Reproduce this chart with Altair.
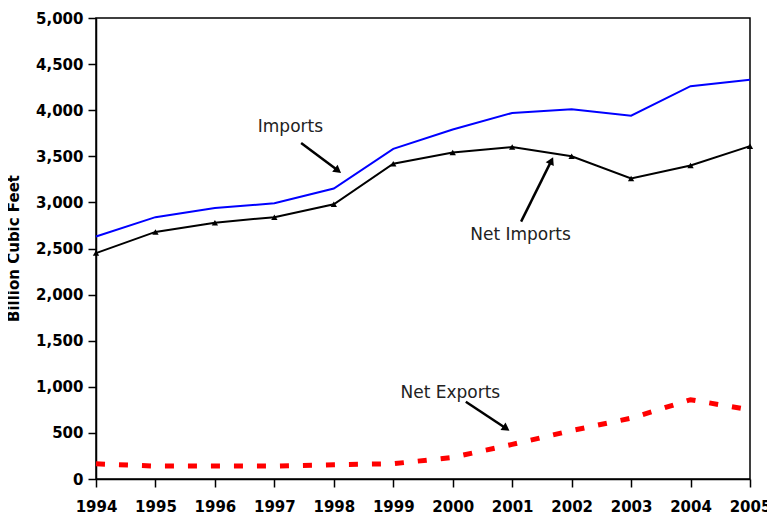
import altair as alt
import pandas as pd

# ---- data ----
years = list(range(1994, 2006))
imports = [2630, 2840, 2940, 2990, 3150, 3580, 3790, 3970, 4010, 3940, 4260, 4330]
net_imports = [2450, 2680, 2780, 2840, 2980, 3420, 3540, 3600, 3500, 3260, 3400, 3610]
net_exports = [165, 140, 140, 140, 155, 165, 235, 375, 525, 660, 860, 750]

y_ticks = list(range(0, 5001, 500))

# annotations (in data coordinates)
label_text = ["Imports", "Net Imports", "Net Exports"]
label_year = [1997.27, 2001.14, 1999.96]
label_value = [3818, 2646, 938]
arrow_year = [1997.45, 2001.15, 2000.22]
arrow_value = [3644, 2791, 838]
arrow_year2 = [1998.07, 2001.66, 2000.90]
arrow_value2 = [3345, 3453, 548]
arrow_angle = [127, 26, 124]

df = pd.DataFrame({"year": years, "imports": imports,
                   "net_imports": net_imports, "net_exports": net_exports})
labels = pd.DataFrame({"text": label_text, "year": label_year, "value": label_value})
arrows = pd.DataFrame({"x1": arrow_year, "y1": arrow_value,
                       "x2": arrow_year2, "y2": arrow_value2, "angle": arrow_angle})

FONT = "DejaVu Sans"
xscale = alt.Scale(domain=[1994, 2005], nice=False, zero=False)
yscale = alt.Scale(domain=[0, 5000], nice=False)

x_axis = alt.Axis(values=years, format="d", title=None, tickSize=8,
                  labelPadding=12, labelFlush=False)
y_axis = alt.Axis(values=y_ticks, format=",d", title="Billion Cubic Feet",
                  tickSize=8, labelPadding=5,
                  titleFont=FONT, titleFontWeight="bold", titleFontSize=15,
                  titleAngle=270, titleBaseline="alphabetic",
                  titleX=-78, titleY=230, titleColor="black")

base = alt.Chart(df)

imp_line = base.mark_line(color="#0000ff", strokeWidth=2).encode(
    x=alt.X("year:Q", scale=xscale, axis=x_axis),
    y=alt.Y("imports:Q", scale=yscale, axis=y_axis),
)
net_line = base.mark_line(color="black", strokeWidth=2).encode(
    x=alt.X("year:Q", scale=xscale),
    y=alt.Y("net_imports:Q", scale=yscale),
)
net_pts = base.mark_point(shape="triangle-up", filled=True, size=40,
                          color="black", opacity=1).encode(
    x=alt.X("year:Q", scale=xscale),
    y=alt.Y("net_imports:Q", scale=yscale),
)
exp_line = base.mark_line(color="#ff0000", strokeWidth=5,
                          strokeDash=[9, 14], strokeCap="butt").encode(
    x=alt.X("year:Q", scale=xscale),
    y=alt.Y("net_exports:Q", scale=yscale),
)

txt = alt.Chart(labels).mark_text(font=FONT, fontSize=17, color="#222222",
                                  baseline="middle", align="center").encode(
    x=alt.X("year:Q", scale=xscale),
    y=alt.Y("value:Q", scale=yscale),
    text="text:N",
)
shaft = alt.Chart(arrows).mark_rule(color="black", strokeWidth=2.5).encode(
    x=alt.X("x1:Q", scale=xscale),
    y=alt.Y("y1:Q", scale=yscale),
    x2="x2:Q",
    y2="y2:Q",
)
head = alt.Chart(arrows).mark_point(shape="triangle-up", filled=True, size=80,
                                    color="black", opacity=1).encode(
    x=alt.X("x2:Q", scale=xscale),
    y=alt.Y("y2:Q", scale=yscale),
    angle=alt.Angle("angle:Q", scale=None),
)

chart = alt.layer(imp_line, net_line, net_pts, exp_line, shaft, head, txt).properties(
    width=654, height=461,
    padding={"left": 88, "top": 10, "right": 17, "bottom": 38},
    autosize=alt.AutoSizeParams(type="none"),
    background="white",
).configure_view(
    stroke="black", strokeWidth=1.5
).configure_axis(
    grid=False, domainColor="black", domainWidth=1.5,
    tickColor="black", tickWidth=1.5,
    labelColor="black", labelFont=FONT, labelFontSize=15, labelFontWeight="bold",
)

chart.save("out.html", embed_options={"renderer": "svg", "actions": False})
